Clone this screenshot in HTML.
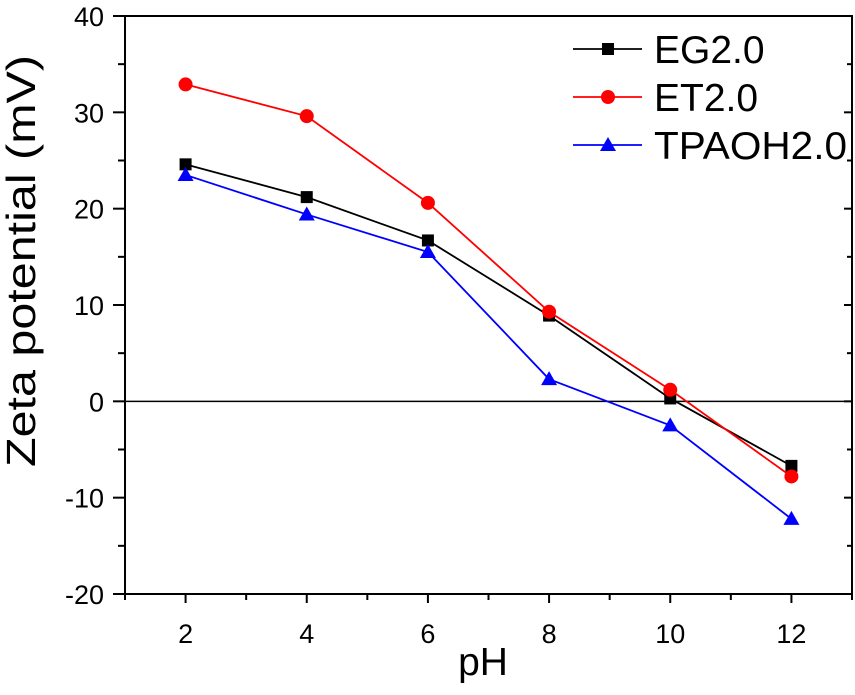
<!DOCTYPE html>
<html><head><meta charset="utf-8"><style>
body{margin:0;background:#fff}
svg text{font-family:"Liberation Sans",Arial,sans-serif}
</style></head><body>
<svg id="chart" width="855" height="690" viewBox="0 0 855 690" xmlns="http://www.w3.org/2000/svg"></svg>
<script>
const categories=[2,4,6,8,10,12];
const seriesEG=[24.6,21.2,16.7,8.9,0.3,-6.7];
const seriesET=[32.9,29.6,20.6,9.3,1.2,-7.8];
const seriesTP=[23.5,19.4,15.5,2.3,-2.5,-12.2];
const yTicks=[-20,-10,0,10,20,30,40];
const xTicks=[2,4,6,8,10,12];
const L=125,R=852,T=16,B=594;
const x=v=>L+(v-1)/12*(R-L);
const y=v=>B-(v+20)/60*(B-T);
const svg=document.getElementById('chart');
const NS='http://www.w3.org/2000/svg';
function mk(t,a,txt){const e=document.createElementNS(NS,t);for(const k in a)e.setAttribute(k,a[k]);if(txt!==undefined)e.textContent=txt;svg.appendChild(e);return e;}
let e;
e=mk('rect',{x:L,y:T,width:R-L,height:B-T,fill:'none',stroke:'#000','stroke-width':2});

e=mk('line',{x1:L,x2:R,y1:y(0),y2:y(0),stroke:'#000','stroke-width':1.5});

for(let v=-20;v<=40;v+=5){const maj=v%10===0;
 e=mk('line',{x1:L,x2:L-(maj?12:7),y1:y(v),y2:y(v),stroke:'#000','stroke-width':2});
 
 e=mk('line',{x1:R,x2:R-(maj?8:5),y1:y(v),y2:y(v),stroke:'#000','stroke-width':2});
 }
yTicks.forEach(v=>{e=mk('text',{x:L-21,y:y(v)+10,'text-anchor':'end','font-size':27},String(v));
 });
for(let v=1;v<=13;v++){const maj=v%2===0;
 e=mk('line',{x1:x(v),x2:x(v),y1:B,y2:B+(maj?9:6),stroke:'#000','stroke-width':2});
 }
xTicks.forEach(v=>{e=mk('text',{x:x(v),y:B+49,'text-anchor':'middle','font-size':27},String(v));
 });
e=mk('text',{x:483,y:675,'text-anchor':'middle','font-size':39},'pH');

e=mk('text',{x:0,y:0,'text-anchor':'middle','font-size':41,textLength:412,lengthAdjust:'spacingAndGlyphs',transform:'translate(35 261) rotate(-90)'},'Zeta potential (mV)');

function marker(type,cx,cy,col){
 if(type==='sq')return mk('rect',{x:cx-6,y:cy-6,width:12,height:12,fill:col});
 if(type==='ci')return mk('circle',{cx:cx,cy:cy,r:7,fill:col});
 return mk('polygon',{points:`${cx},${cy-8} ${cx-8},${cy+6} ${cx+8},${cy+6}`,fill:col});}
const series=[['eg',seriesEG,'#000','sq'],['et',seriesET,'#f00','ci'],['tpaoh',seriesTP,'#00f','tr']];
series.forEach(([n,d,c,m])=>{
 e=mk('polyline',{points:d.map((v,i)=>x(categories[i])+','+y(v)).join(' '),fill:'none',stroke:c,'stroke-width':1.8});
 
 d.forEach((v,i)=>{e=marker(m,x(categories[i]),y(v),c);
  });});
const names=['EG2.0','ET2.0','TPAOH2.0'];
series.forEach(([n,d,c,m],i)=>{const ly=49+i*48;
 e=mk('line',{x1:573,x2:642,y1:ly,y2:ly,stroke:c,'stroke-width':1.8});
 
 e=marker(m,608,ly,c);
 
 e=mk('text',{x:654,y:ly+14,'font-size':39},names[i]);
 if(i===2){e.setAttribute('textLength',193);e.setAttribute('lengthAdjust','spacingAndGlyphs');}
 });
</script>
</body></html>
